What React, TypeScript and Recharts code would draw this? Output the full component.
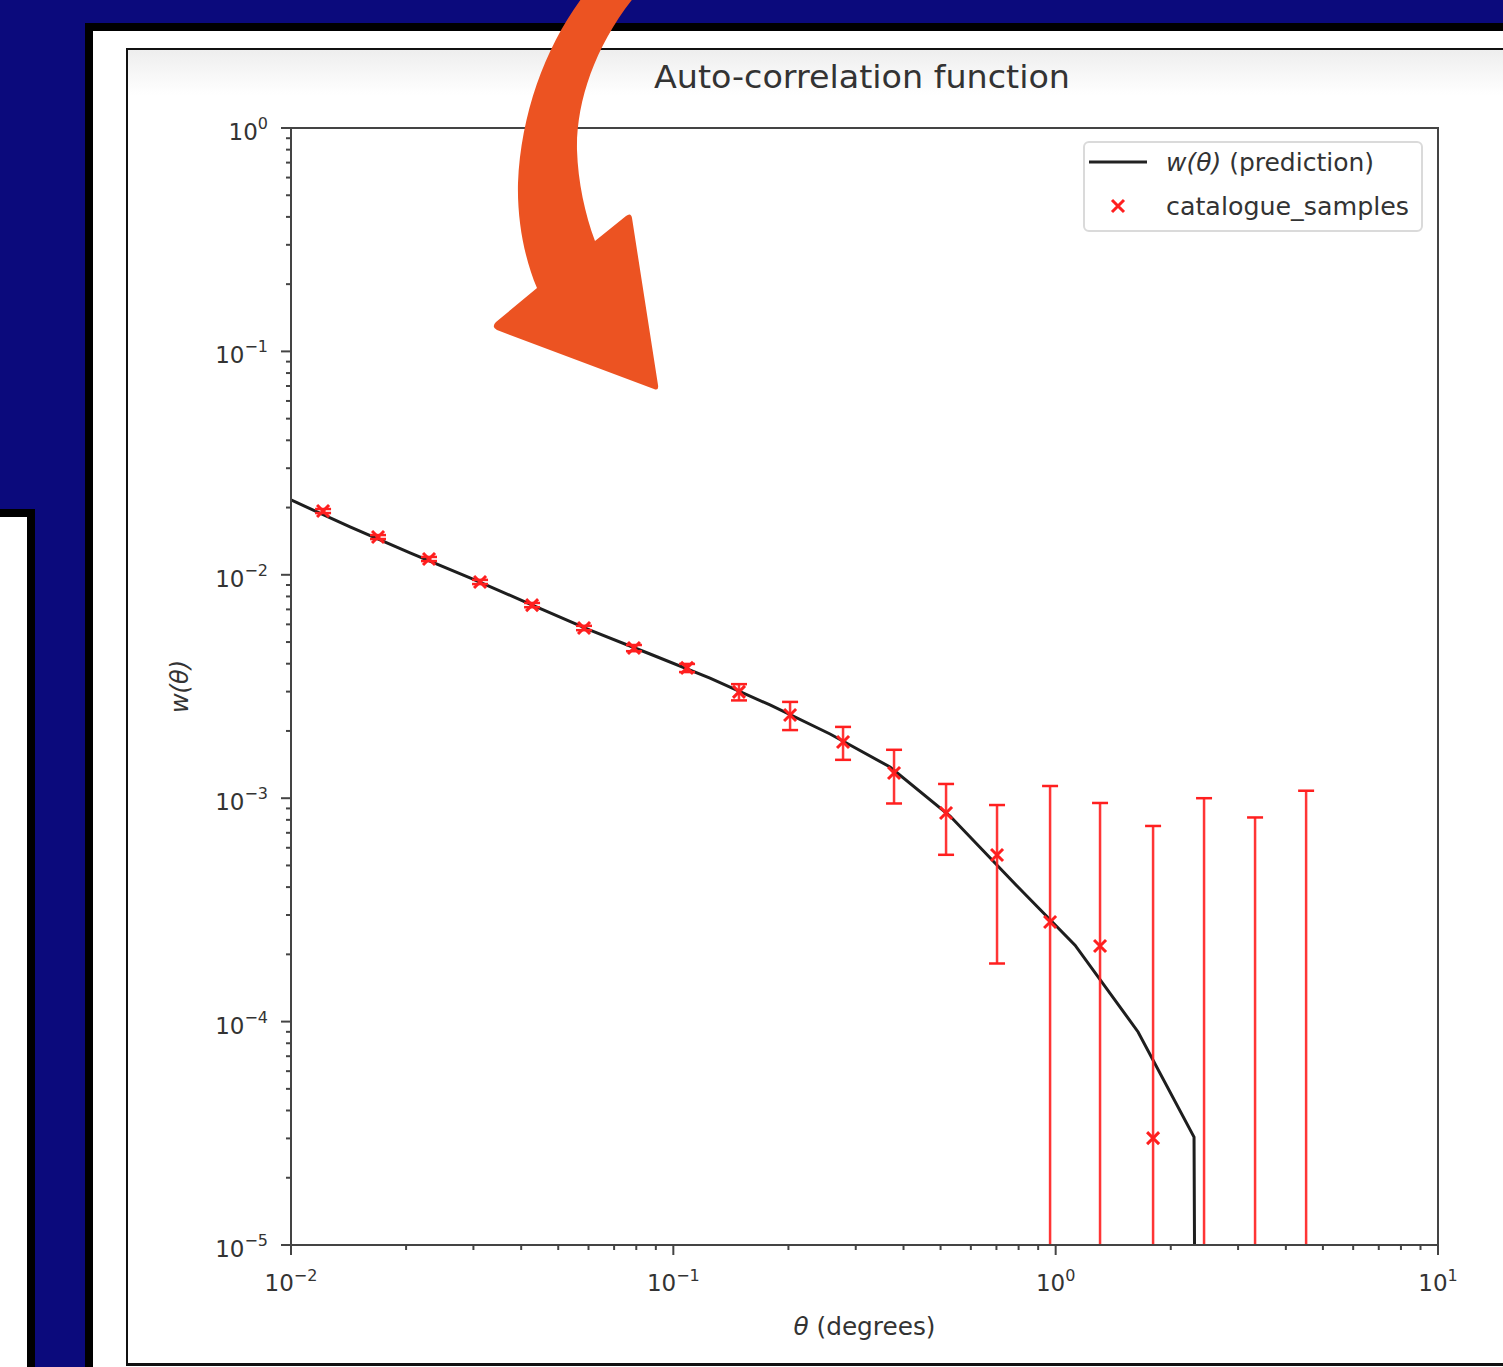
import React from "react";
import {
  ComposedChart,
  Line,
  Scatter,
  XAxis,
  YAxis,
  Legend,
  Label,
  ReferenceArea,
} from "recharts";

// prediction curve w(theta)
const predTheta = [
  0.01, 0.01427, 0.02048, 0.02939, 0.04219, 0.06055, 0.08691, 0.1247, 0.179,
  0.257, 0.3688, 0.5293, 0.7877, 1.1237, 1.6428, 2.301, 3.2,
];
const predW = [
  0.02163, 0.01637, 0.01252, 0.00968, 0.0074, 0.00566, 0.00442, 0.00345,
  0.002614, 0.001938, 0.001379, 0.000832, 0.000409, 0.00022, 0.0000899,
  0.0000304, 0,
];

// catalogue samples with symmetric 1-sigma errors
const sampleTheta = [
  0.01213, 0.01689, 0.02296, 0.03122, 0.04271, 0.0584, 0.07889, 0.1086, 0.1485,
  0.202, 0.2779, 0.3778, 0.5168, 0.7025, 0.9669, 1.3064, 1.798, 2.444, 3.323,
  4.519,
];
const sampleW = [
  0.0193, 0.01476, 0.01177, 0.00929, 0.00732, 0.00578, 0.0047, 0.00383, 0.00299,
  0.002358, 0.001785, 0.001297, 0.000858, 0.000557, 0.000279, 0.000218,
  0.0000301, -0.0001, -0.0001, -0.0001,
];
const sampleErr = [
  0.0004, 0.0003, 0.00025, 0.0002, 0.00016, 0.00013, 0.00015, 0.00016, 0.00025,
  0.00034, 0.0003, 0.00035, 0.0003, 0.000375, 0.000855, 0.000734, 0.000721,
  0.0011, 0.00092, 0.00118,
];

const xMajor = [0.01, 0.1, 1, 10];
const yMajor = [1e-5, 1e-4, 1e-3, 1e-2, 1e-1, 1];
const minorSteps = [2, 3, 4, 5, 6, 7, 8, 9];

// like matplotlib's clip of non-positive values on a log axis
const LOG_FLOOR = 1e-60;

const FONT = "'DejaVu Sans', sans-serif";
const TEXT = "#333";
const AXIS = "#444";
const RED = "#ff1f1f";
const NAVY = "#0b0a7c";

const withMinor = (majors: number[]) =>
  majors.flatMap((m, i) =>
    i < majors.length - 1 ? [m, ...minorSteps.map((s) => m * s)] : [m]
  );
const xTicks = withMinor(xMajor);
const yTicks = withMinor(yMajor);

const predRows = predTheta.map((t, i) => ({
  theta: t,
  w: Math.max(predW[i], LOG_FLOOR),
}));
const sampleRows = sampleTheta.map((t, i) => ({ theta: t, w: sampleW[i] }));
// one vertical segment per sample: lower and upper end of the error bar
const errRows = sampleTheta.map((t, i) => {
  const lo = sampleW[i] - sampleErr[i];
  const hi = sampleW[i] + sampleErr[i];
  return [
    { theta: t, w: Math.max(lo, LOG_FLOOR), cap: lo > 0 },
    { theta: t, w: hi, cap: hi > 0 },
  ];
});

const expOf = (v: number) => {
  const e = Math.round(Math.log10(v));
  return e < 0 ? `\u2212${-e}` : `${e}`;
};

const MathText = ({ s }: { s: string }) =>
  s.startsWith("w(θ)") ? (
    <>
      <tspan fontStyle="italic">w(θ)</tspan>
      {s.slice(4)}
    </>
  ) : (
    <>{s}</>
  );

const YTick = (props: any) => {
  const { x, y, payload } = props;
  const major = yMajor.includes(payload.value);
  const len = major ? 10 : 5;
  return (
    <g>
      <line x1={x - len} x2={x} y1={y} y2={y} stroke={AXIS} strokeWidth={2} />
      {major && (
        <text x={x - 23} y={y + 12} textAnchor="end" fontFamily={FONT} fontSize={23} fill={TEXT}>
          10
          <tspan dy={-11} fontSize={16}>
            {expOf(payload.value)}
          </tspan>
        </text>
      )}
    </g>
  );
};

const XTick = (props: any) => {
  const { x, y, payload } = props;
  const major = xMajor.includes(payload.value);
  const len = major ? 10 : 5;
  return (
    <g>
      <line x1={x} x2={x} y1={y} y2={y + len} stroke={AXIS} strokeWidth={2} />
      {major && (
        <text x={x} y={y + 46} textAnchor="middle" fontFamily={FONT} fontSize={23} fill={TEXT}>
          10
          <tspan dy={-10} fontSize={16}>
            {expOf(payload.value)}
          </tspan>
        </text>
      )}
    </g>
  );
};

const XMark = (props: any) => {
  const { cx, cy } = props;
  if (!Number.isFinite(cx) || !Number.isFinite(cy)) return <g />;
  const s = 6;
  return (
    <path
      d={`M${cx - s},${cy - s}L${cx + s},${cy + s}M${cx - s},${cy + s}L${cx + s},${cy - s}`}
      stroke={RED}
      strokeWidth={3}
      fill="none"
    />
  );
};

const Cap = (props: any) => {
  const { cx, cy, payload } = props;
  if (!payload?.cap || !Number.isFinite(cy)) return <g key={props.key} />;
  return (
    <line key={props.key} x1={cx - 8} x2={cx + 8} y1={cy} y2={cy} stroke={RED} strokeWidth={2.5} />
  );
};

const LegendBox = (props: any) => {
  const items = (props.payload ?? [])
    .filter((it: any) => it.type !== "none")
    .sort((a: any, b: any) => (a.type === "line" ? 0 : 1) - (b.type === "line" ? 0 : 1));
  return (
    <svg width={341} height={92} style={{ display: "block" }}>
      <rect x={1} y={1} width={338} height={89} rx={5} fill="#fff" fillOpacity={0.8} stroke="#dadada" strokeWidth={2} />
      {items.map((it: any, i: number) => {
        const cy = 21 + i * 44;
        return (
          <g key={it.value}>
            {it.type === "line" ? (
              <line x1={6} x2={64} y1={cy} y2={cy} stroke="#222" strokeWidth={3} />
            ) : (
              <XMark cx={35} cy={cy} />
            )}
            <text
              x={83}
              y={cy + 9}
              fontFamily={FONT}
              fontSize={24}
              fill={TEXT}
              textLength={it.type === "line" ? 208 : 243}
              lengthAdjust="spacingAndGlyphs"
            >
              <MathText s={it.value} />
            </text>
          </g>
        );
      })}
    </svg>
  );
};

const Chart = () => (
  <ComposedChart width={1375} height={1313} margin={{ top: 78, right: 65, left: 0, bottom: 0 }}>
    <XAxis
      dataKey="theta"
      type="number"
      scale="log"
      domain={[0.01, 10]}
      allowDataOverflow
      ticks={xTicks}
      interval={0}
      tick={<XTick />}
      tickLine={false}
      tickSize={0}
      tickMargin={0}
      axisLine={{ stroke: AXIS, strokeWidth: 2 }}
      height={118}
    >
      <Label
        content={(p: any) => (
          <text
            x={p.viewBox.x + p.viewBox.width / 2}
            y={p.viewBox.y + 90}
            textAnchor="middle"
            fontFamily={FONT}
            fontSize={24}
            fill={TEXT}
            textLength={142}
            lengthAdjust="spacingAndGlyphs"
          >
            <tspan fontStyle="italic">θ</tspan> (degrees)
          </text>
        )}
      />
    </XAxis>
    <YAxis
      type="number"
      scale="log"
      domain={[1e-5, 1]}
      allowDataOverflow
      ticks={yTicks}
      interval={0}
      tick={<YTick />}
      tickLine={false}
      tickSize={0}
      tickMargin={0}
      axisLine={{ stroke: AXIS, strokeWidth: 2 }}
      width={163}
    >
      <Label
        content={(p: any) => {
          const cx = p.viewBox.x + 52;
          const cy = p.viewBox.y + p.viewBox.height / 2;
          return (
            <text
              x={cx}
              y={cy}
              transform={`rotate(-90 ${cx} ${cy})`}
              textAnchor="middle"
              dominantBaseline="central"
              fontFamily={FONT}
              fontSize={24}
              fontStyle="italic"
              fill={TEXT}
            >
              w(θ)
            </text>
          );
        }}
      />
    </YAxis>
    <ReferenceArea x1={0.01} x2={10} y1={1e-5} y2={1} fill="none" stroke={AXIS} strokeWidth={2} />
    <Line
      data={predRows}
      dataKey="w"
      name="w(θ) (prediction)"
      type="linear"
      stroke="#1e1e1e"
      strokeWidth={3}
      dot={false}
      activeDot={false}
      legendType="line"
      isAnimationActive={false}
    />
    {errRows.map((rows, i) => (
      <Line
        key={`err-${i}`}
        data={rows}
        dataKey="w"
        name={`err-${i}`}
        type="linear"
        stroke={RED}
        strokeWidth={2.5}
        strokeOpacity={0.9}
        dot={<Cap />}
        activeDot={false}
        legendType="none"
        isAnimationActive={false}
      />
    ))}
    <Scatter
      data={sampleRows}
      dataKey="w"
      name="catalogue_samples"
      shape={<XMark />}
      legendType="cross"
      isAnimationActive={false}
    />
    <Legend
      layout="horizontal"
      verticalAlign="middle"
      align="center"
      content={<LegendBox />}
      wrapperStyle={{ left: 955, top: 91, width: "auto" }}
    />
  </ComposedChart>
);

export default function App() {
  return (
    <div
      style={{
        position: "absolute",
        left: 0,
        top: 0,
        width: 1503,
        height: 1367,
        overflow: "hidden",
        background: NAVY,
      }}
    >
      <div
        style={{
          position: "absolute",
          left: -8,
          top: 509,
          width: 43,
          height: 900,
          boxSizing: "border-box",
          border: "8px solid #000",
          background: "#fff",
        }}
      />
      <div
        style={{
          position: "absolute",
          left: 85,
          top: 23,
          width: 1500,
          height: 1400,
          boxSizing: "border-box",
          border: "8px solid #000",
          background: "#fff",
        }}
      />
      <div
        style={{
          position: "absolute",
          left: 126,
          top: 48,
          width: 1420,
          height: 1318,
          boxSizing: "border-box",
          border: "2px solid #111",
          borderBottomWidth: 3,
          background: "linear-gradient(#eeeeee 0px, #ffffff 45px)",
        }}
      />
      <div style={{ position: "absolute", left: 128, top: 50 }}>
        <Chart />
      </div>
      <svg
        width={1503}
        height={1367}
        style={{ position: "absolute", left: 0, top: 0, pointerEvents: "none" }}
      >
        <text
          x={862}
          y={88}
          textAnchor="middle"
          fontFamily={FONT}
          fontSize={32}
          fill={TEXT}
          textLength={416}
          lengthAdjust="spacingAndGlyphs"
        >
          Auto-correlation function
        </text>
        <path
          d="M588 -10 C548 40, 521 110, 518 183 C517 222, 525 260, 537 288 L496 322 Q491 327 497 330 L654 389 Q659 391 658 385 L632 218 Q631 212 626 216 L595 241 C585 214, 578 182, 577 150 C576 100, 597 40, 640 -10 Z"
          fill="#ec5322"
        />
      </svg>
    </div>
  );
}
